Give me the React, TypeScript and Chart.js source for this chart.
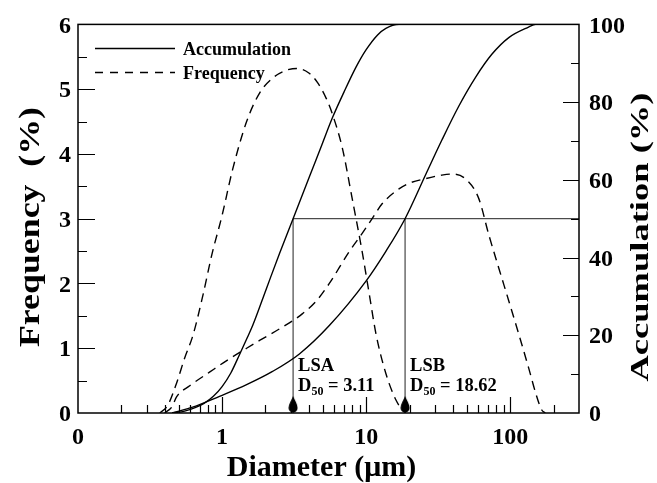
import React, { useEffect, useRef } from "react";
import { Chart, registerables } from "chart.js";

Chart.register(...registerables);

// ---------- data ----------
const xTickValues = [0.1, 1, 10, 100];
const xTickLabels = ["0", "1", "10", "100"];

const lsaFreqD = [0.37, 0.42, 0.483, 0.55, 0.628, 0.733, 0.85, 1.0, 1.18, 1.48, 1.82, 2.24, 2.7, 3.3, 4.0, 4.6, 5.3, 5.82, 6.82, 8.0, 9.38, 10.5, 11.7, 13.7, 16.1, 17.8, 18.8];
const lsaFreq = [0, 0.12, 0.46, 0.85, 1.2, 1.8, 2.45, 3.05, 3.75, 4.5, 4.94, 5.17, 5.28, 5.32, 5.25, 5.1, 4.85, 4.62, 4.1, 3.31, 2.49, 1.84, 1.22, 0.61, 0.2, 0.05, 0];

const lsaAccD = [0.45, 0.55, 0.65, 0.75, 0.87, 1.0, 1.15, 1.32, 1.5, 1.63, 2.03, 2.5, 3.11, 4.03, 4.96, 5.82, 7.0, 8.5, 10, 12, 13.7, 16.9, 300];
const lsaAcc = [0, 0.5, 1.4, 2.5, 4.3, 6.8, 10.3, 15.0, 19.5, 22.5, 32, 41, 50, 60.7, 69.3, 75.9, 82.5, 89, 93.5, 97.3, 99, 100, 100];

const lsbFreqD = [0.4, 0.45, 0.483, 0.596, 0.818, 1.13, 1.48, 1.82, 2.38, 3.07, 3.6, 4.51, 5.55, 7.62, 9.23, 11.0, 12.9, 16.9, 20, 26, 33, 39.4, 49.2, 60.5, 71, 83.2, 97.7, 114.5, 134, 150, 165, 175];
const lsbFreq = [0, 0.1, 0.25, 0.42, 0.63, 0.84, 1.0, 1.12, 1.27, 1.42, 1.53, 1.73, 2.0, 2.49, 2.75, 3.0, 3.23, 3.46, 3.55, 3.62, 3.67, 3.69, 3.61, 3.31, 2.75, 2.24, 1.73, 1.22, 0.7, 0.31, 0.05, 0];

const lsbAccD = [0.45, 0.625, 0.96, 1.48, 2.24, 3.44, 5.55, 10, 13.7, 18.62, 26, 33.6, 44, 57.7, 74.5, 97.7, 134, 150, 300];
const lsbAcc = [0, 1.5, 4.3, 7.3, 10.7, 15.2, 22.5, 34, 41.6, 50, 61.5, 70.3, 79, 86.5, 92.3, 96.6, 99.3, 100, 100];

const sampleNames = ["LSA", "LSB"];
const d50Values = [3.11, 18.62];
const d50Labels = ["3.11", "18.62"];
const d50Level = 50;
const xMax = 300;

// ---------- styling ----------
const SERIF = "'Liberation Serif', 'Times New Roman', serif";

const pts = (xs: number[], ys: number[]) => xs.map((x, i) => ({ x, y: ys[i] }));

function makeMarker() {
  const c = document.createElement("canvas");
  c.width = 10;
  c.height = 17;
  const g = c.getContext("2d")!;
  g.fillStyle = "#000";
  g.beginPath();
  g.moveTo(5, 0);
  g.bezierCurveTo(6.5, 4, 9.5, 8, 9.5, 12);
  g.arc(5, 12, 4.5, 0, Math.PI);
  g.bezierCurveTo(0.5, 8, 3.5, 4, 5, 0);
  g.fill();
  return c;
}

function drawRotated(ctx: CanvasRenderingContext2D, text: string, baseX: number, cy: number, size: number, targetLen: number) {
  ctx.save();
  ctx.font = `bold ${size}px ${SERIF}`;
  const w = ctx.measureText(text).width;
  ctx.translate(baseX, cy);
  ctx.rotate(-Math.PI / 2);
  ctx.scale(targetLen / w, 1);
  ctx.textAlign = "center";
  ctx.textBaseline = "alphabetic";
  ctx.fillStyle = "#000";
  ctx.fillText(text, 0, 0);
  ctx.restore();
}

const overlay = {
  id: "overlay",
  afterDraw(chart: any) {
    const { ctx, chartArea: a, scales } = chart;
    const sx = scales.x, sy = scales.y, sy1 = scales.y1;
    ctx.save();
    ctx.strokeStyle = "#000";
    ctx.fillStyle = "#000";

    // frame
    ctx.lineWidth = 1.5;
    ctx.strokeRect(a.left, a.top, a.right - a.left, a.bottom - a.top);

    // inward ticks
    ctx.lineWidth = 1.2;
    ctx.beginPath();
    [0.1, 1, 10, 100].forEach((dec) => {
      for (let k = 1; k <= 9; k++) {
        const v = k * dec;
        if (v <= 0.1001 || v >= xMax) continue;
        const px = Math.round(sx.getPixelForValue(v)) + 0.5;
        const len = k === 1 ? 16 : 8;
        ctx.moveTo(px, a.bottom);
        ctx.lineTo(px, a.bottom - len);
      }
    });
    for (let i = 1; i < 12; i++) {
      const v = i * 0.5;
      const py = Math.round(sy.getPixelForValue(v)) + 0.5;
      const len = i % 2 === 0 ? 17 : 9;
      ctx.moveTo(a.left, py);
      ctx.lineTo(a.left + len, py);
    }
    for (let v = 10; v < 100; v += 10) {
      const py = Math.round(sy1.getPixelForValue(v)) + 0.5;
      const len = v % 20 === 0 ? 16 : 8;
      ctx.moveTo(a.right, py);
      ctx.lineTo(a.right - len, py);
    }
    ctx.stroke();

    // D50 markers
    const marker = makeMarker();
    d50Values.forEach((d) => {
      const px = sx.getPixelForValue(d);
      const py = sy.getPixelForValue(0);
      ctx.drawImage(marker, px - 5, py - 17);
    });

    // annotations
    d50Values.forEach((d, i) => {
      const x0 = sx.getPixelForValue(d) + 5;
      ctx.textAlign = "left";
      ctx.textBaseline = "alphabetic";
      ctx.font = `bold 18.5px ${SERIF}`;
      ctx.fillText(sampleNames[i], x0, 371);
      ctx.fillText("D", x0, 391);
      let w = ctx.measureText("D").width;
      ctx.font = `bold 12px ${SERIF}`;
      ctx.fillText("50", x0 + w, 395);
      w += ctx.measureText("50").width;
      ctx.font = `bold 18.5px ${SERIF}`;
      ctx.fillText(" = " + d50Labels[i], x0 + w, 391);
    });

    // legend
    ctx.lineWidth = 1.4;
    ctx.beginPath();
    ctx.moveTo(95, 48.5);
    ctx.lineTo(175, 48.5);
    ctx.stroke();
    ctx.setLineDash([8, 7]);
    ctx.beginPath();
    ctx.moveTo(95, 72.5);
    ctx.lineTo(175, 72.5);
    ctx.stroke();
    ctx.setLineDash([]);
    ctx.font = `bold 18px ${SERIF}`;
    ctx.textAlign = "left";
    ctx.fillText("Accumulation", 183, 55);
    ctx.fillText("Frequency", 183, 79);

    // axis titles
    ctx.font = `bold 30px ${SERIF}`;
    ctx.textAlign = "center";
    ctx.fillText("Diameter (\u03bcm)", 321.5, 476);
    ctx.restore();

    drawRotated(ctx, "Frequency  (%)", 39, 227, 29, 240);
    drawRotated(ctx, "Accumulation (%)", 648, 237, 25, 289);
  },
};

export default function App() {
  const ref = useRef<HTMLCanvasElement>(null);

  useEffect(() => {
    const canvas = ref.current!;
    const solid = {
      borderColor: "#000",
      backgroundColor: "#000",
      borderWidth: 1.4,
      pointRadius: 0,
      cubicInterpolationMode: "monotone" as const,
      fill: false,
    };
    const dashed = { ...solid, borderDash: [9, 6] };
    const refLine = { borderColor: "#222", backgroundColor: "#222", borderWidth: 1, pointRadius: 0, tension: 0, fill: false };
    const tickFont = { family: SERIF, weight: "bold" as const, size: 24 };

    const chart = new Chart(canvas, {
      type: "line",
      data: {
        datasets: [
          { label: "LSA Frequency", data: pts(lsaFreqD, lsaFreq), yAxisID: "y", ...dashed },
          { label: "LSB Frequency", data: pts(lsbFreqD, lsbFreq), yAxisID: "y", ...dashed },
          { label: "LSA Accumulation", data: pts(lsaAccD, lsaAcc), yAxisID: "y1", ...solid },
          { label: "LSB Accumulation", data: pts(lsbAccD, lsbAcc), yAxisID: "y1", ...solid },
          {
            label: "LSA D50",
            data: [{ x: d50Values[0], y: 0 }, { x: d50Values[0], y: d50Level }, { x: xMax, y: d50Level }],
            yAxisID: "y1",
            ...refLine,
          },
          {
            label: "LSB D50",
            data: [{ x: d50Values[1], y: 0 }, { x: d50Values[1], y: d50Level }],
            yAxisID: "y1",
            ...refLine,
          },
        ],
      },
      options: {
        responsive: false,
        devicePixelRatio: 1,
        animation: false,
        layout: { padding: { top: 21, left: 0, right: 0, bottom: 0 } },
        plugins: { legend: { display: false }, tooltip: { enabled: false } },
        scales: {
          x: {
            type: "logarithmic",
            position: "bottom",
            min: 0.1,
            max: xMax,
            grid: { display: false, drawTicks: false },
            border: { display: false },
            afterBuildTicks: (s: any) => {
              s.ticks = xTickValues.map((v) => ({ value: v }));
            },
            afterFit: (s: any) => {
              s.height = 70;
            },
            ticks: {
              autoSkip: false,
              maxRotation: 0,
              padding: 10,
              color: "#000",
              font: tickFont,
              callback: (_v: any, i: number) => xTickLabels[i],
            },
          },
          y: {
            type: "linear",
            position: "left",
            min: 0,
            max: 6,
            grid: { display: false, drawTicks: false },
            border: { display: false },
            afterFit: (s: any) => {
              s.width = 78;
            },
            ticks: { stepSize: 1, padding: 7, color: "#000", font: tickFont, labelOffset: 2 },
          },
          y1: {
            type: "linear",
            position: "right",
            min: 0,
            max: 100,
            grid: { display: false, drawTicks: false },
            border: { display: false },
            afterFit: (s: any) => {
              s.width = 78;
            },
            ticks: { stepSize: 20, padding: 10, color: "#000", font: tickFont, labelOffset: 2 },
          },
        },
      } as any,
      plugins: [overlay],
    });
    return () => chart.destroy();
  }, []);

  return (
    <div style={{ position: "fixed", left: 0, top: 0, width: 657, height: 483, background: "#fff" }}>
      <canvas ref={ref} width={657} height={483} style={{ width: 657, height: 483, display: "block" }} />
    </div>
  );
}
